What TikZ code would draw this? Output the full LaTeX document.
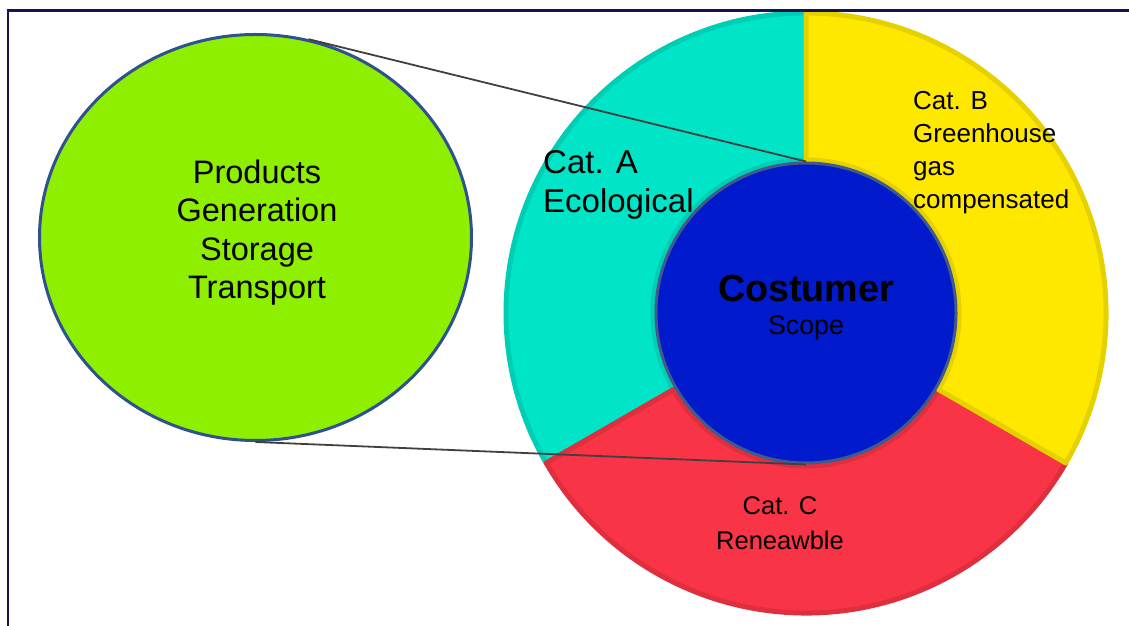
\documentclass[tikz,border=0pt]{standalone}
\usepackage{fontspec}
\setmainfont{Liberation Sans}
\usetikzlibrary{shapes.geometric}

\definecolor{catA}{RGB}{0,229,200}
\definecolor{catB}{RGB}{255,232,0}
\definecolor{catC}{RGB}{248,52,70}
\definecolor{chainfill}{RGB}{143,239,0}
\definecolor{chainline}{RGB}{47,82,143}
\definecolor{custfill}{RGB}{0,26,204}
\definecolor{custline}{RGB}{65,90,140}
\definecolor{framecol}{RGB}{20,20,80}

\tikzset{
  ringseg/.style={line width=5pt, line join=round},
  chainnode/.style={ellipse, fill=chainfill, draw=chainline, line width=3pt,
    minimum width=432pt, minimum height=406pt, inner sep=0pt},
  custnode/.style={circle, fill=custfill, draw=custline, line width=3pt,
    minimum size=300pt, inner sep=0pt},
  link/.style={draw=black!75, line width=1.8pt},
  big/.style={font=\fontsize{32.5}{38.5}\selectfont, inner sep=0pt},
  small/.style={font=\fontsize{26}{33}\selectfont, inner sep=0pt},
}

\begin{document}
\begin{tikzpicture}[x=1pt, y=1pt]
  \useasboundingbox (0,0) rectangle (1129,626);

  % three categories around the customer
  \begin{scope}[shift={(806,313)}]
    \foreach \s/\col in {90/catA, 210/catC, 330/catB}
      \draw[ringseg, fill=\col, draw=\col!90!black]
        (\s:300pt) arc[start angle=\s, end angle=\s+120, radius=300pt]
        -- (\s+120:153pt) arc[start angle=\s+120, end angle=\s, radius=153pt]
        -- cycle;
  \end{scope}

  \node[chainnode] (chain) at (255.5,388.5) {};
  \node[custnode] (cust) at (806,313) {};

  \draw[link] (chain.75) -- (cust.north);
  \draw[link] (chain.south) -- (cust.south);

  % labels
  \node[big, align=center] (chaintext) at (257,393.3)
    {Products\\Generation\\Storage\\Transport};
  \node[big, align=left, anchor=west, font=\fontsize{33}{39}\selectfont]
    (cattextA) at (543,441.1) {Cat. A\\Ecological};
  \node[small, align=left, anchor=west] (cattextB) at (913,473)
    {Cat. B\\Greenhouse\\gas\\compensated};
  \node[small, align=center, font=\fontsize{25.5}{35}\selectfont]
    (cattextC) at (780,102.6) {Cat. C\\Reneawble};
  \node[anchor=base, inner sep=0pt, font=\fontsize{37.7}{40}\selectfont\bfseries]
    (custname) at (806,324) {Costumer};
  \node[anchor=base, inner sep=0pt, font=\fontsize{26.8}{30}\selectfont]
    (custscope) at (806,291) {Scope};

  % frame
  \draw[framecol, line width=2.5pt] (8,-10) -- (8,615.5) -- (1140,615.5);
\end{tikzpicture}
\end{document}
